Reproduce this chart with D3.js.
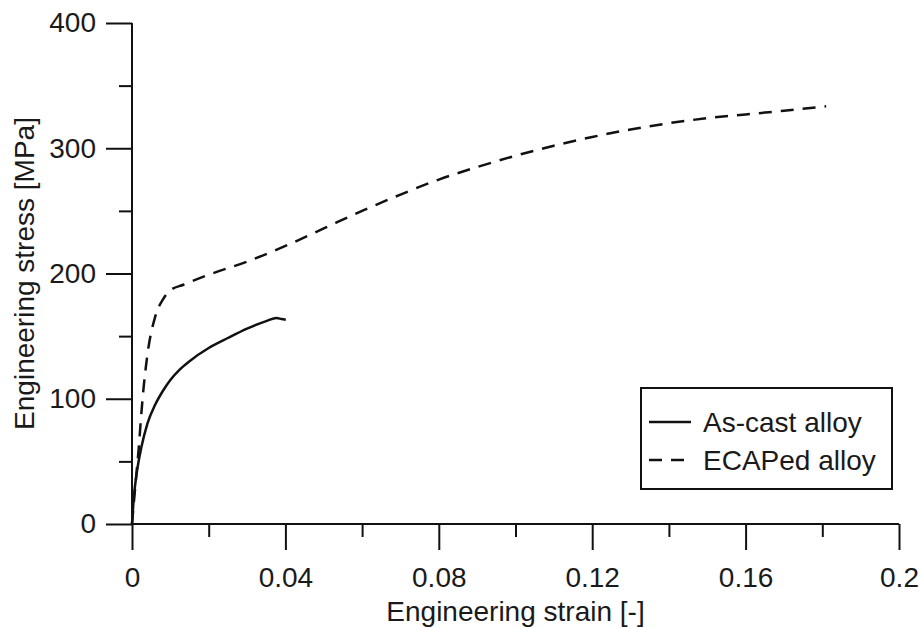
<!DOCTYPE html>
<html>
<head>
<meta charset="utf-8">
<script src="https://cdn.jsdelivr.net/npm/d3@7"></script>
<style>
  html, body { margin: 0; padding: 0; background: #fff; }
  svg { display: block; }
  text { font-family: "Liberation Sans", Arial, sans-serif; fill: #1a1a1a; }
</style>
</head>
<body>
<div id="chart"></div>
<script>
// Stress-strain curves
const asCast = [
  [0, 0], [0.0005, 22], [0.0012, 40], [0.0025, 62], [0.004, 80], [0.006, 95],
  [0.008, 106], [0.01, 115], [0.0125, 123.5], [0.015, 130], [0.02, 140.5],
  [0.025, 148.5], [0.03, 156], [0.035, 162], [0.0377, 164.5], [0.039, 163.6],
  [0.0401, 163]
];
const ecaped = [
  [0, 0], [0.001, 35], [0.0018, 62], [0.0023, 83], [0.003, 108], [0.0042, 139],
  [0.006, 165], [0.0082, 180], [0.01, 186.5], [0.0134, 191], [0.02, 199],
  [0.03, 209.5], [0.04, 222], [0.05, 236], [0.06, 250], [0.07, 263],
  [0.08, 275], [0.09, 285], [0.1, 294], [0.11, 302], [0.12, 309], [0.13, 315],
  [0.14, 320], [0.15, 324], [0.16, 327], [0.17, 330], [0.181, 333.5]
];
const xMajorTicks = [0, 0.04, 0.08, 0.12, 0.16, 0.2];
const xMinorTicks = [0.02, 0.06, 0.1, 0.14, 0.18];
const yMajorTicks = [0, 100, 200, 300, 400];
const yMinorTicks = [50, 150, 250, 350];
const seriesNames = ["As-cast alloy", "ECAPed alloy"];

const config = {
  width: 919,
  height: 628,
  left: 132, right: 899, top: 23, bottom: 524,
  majorTick: 26,
  minorTick: 13,
  fontSize: "28px",
  dash: "13,9"
};

const svg = d3.select("#chart").append("svg")
  .attr("width", config.width)
  .attr("height", config.height);

const x = d3.scaleLinear().domain([0, 0.2]).range([config.left, config.right]);
const y = d3.scaleLinear().domain([0, 400]).range([config.bottom, config.top]);

// minor ticks first, then major axes with labels
svg.append("g")
  .attr("transform", `translate(0,${config.bottom})`)
  .call(d3.axisBottom(x).tickValues(xMinorTicks).tickSize(config.minorTick).tickFormat(""));
svg.append("g")
  .attr("transform", `translate(${config.left},0)`)
  .call(d3.axisLeft(y).tickValues(yMinorTicks).tickSize(config.minorTick).tickFormat(""));

svg.append("g")
  .attr("transform", `translate(0,${config.bottom})`)
  .call(d3.axisBottom(x).tickValues(xMajorTicks).tickSize(config.majorTick)
    .tickPadding(17).tickFormat(d => String(+d.toFixed(2))));
svg.append("g")
  .attr("transform", `translate(${config.left},0)`)
  .call(d3.axisLeft(y).tickValues(yMajorTicks).tickSize(config.majorTick).tickPadding(10));

svg.selectAll(".domain").remove();
svg.selectAll(".tick line").attr("stroke", "#111").attr("stroke-width", 2);
svg.selectAll(".tick text").style("font-size", config.fontSize).attr("fill", "#1a1a1a");

// axis lines
svg.append("line")
  .attr("x1", config.left).attr("x2", config.right)
  .attr("y1", config.bottom).attr("y2", config.bottom)
  .attr("stroke", "#111").attr("stroke-width", 2);
svg.append("line")
  .attr("x1", config.left).attr("x2", config.left)
  .attr("y1", config.top).attr("y2", config.bottom)
  .attr("stroke", "#111").attr("stroke-width", 2);

// axis titles
svg.append("text")
  .attr("x", (config.left + config.right) / 2)
  .attr("y", 621)
  .attr("text-anchor", "middle")
  .style("font-size", config.fontSize)
  .text("Engineering strain [-]");
svg.append("text")
  .attr("transform", `translate(34,${(config.top + config.bottom) / 2}) rotate(-90)`)
  .attr("text-anchor", "middle")
  .style("font-size", config.fontSize)
  .text("Engineering stress [MPa]");

// curves
const line = d3.line().x(d => x(d[0])).y(d => y(d[1])).curve(d3.curveMonotoneX);
svg.append("path").datum(asCast)
  .attr("d", line).attr("fill", "none")
  .attr("stroke", "#111").attr("stroke-width", 2.5);
svg.append("path").datum(ecaped)
  .attr("d", line).attr("fill", "none")
  .attr("stroke", "#111").attr("stroke-width", 2.5)
  .attr("stroke-dasharray", config.dash);

// legend
const legend = svg.append("g").attr("transform", "translate(641,388)");
legend.append("rect")
  .attr("width", 251).attr("height", 101)
  .attr("fill", "#fff").attr("stroke", "#111").attr("stroke-width", 2);
seriesNames.forEach((name, i) => {
  const row = legend.append("g").attr("transform", `translate(0,${34 + i * 38})`);
  row.append("line")
    .attr("x1", 8).attr("x2", 50)
    .attr("stroke", "#111").attr("stroke-width", 2.5)
    .attr("stroke-dasharray", i === 1 ? config.dash : null);
  row.append("text")
    .attr("x", 62).attr("y", 10)
    .style("font-size", config.fontSize)
    .text(name);
});
</script>
</body>
</html>
